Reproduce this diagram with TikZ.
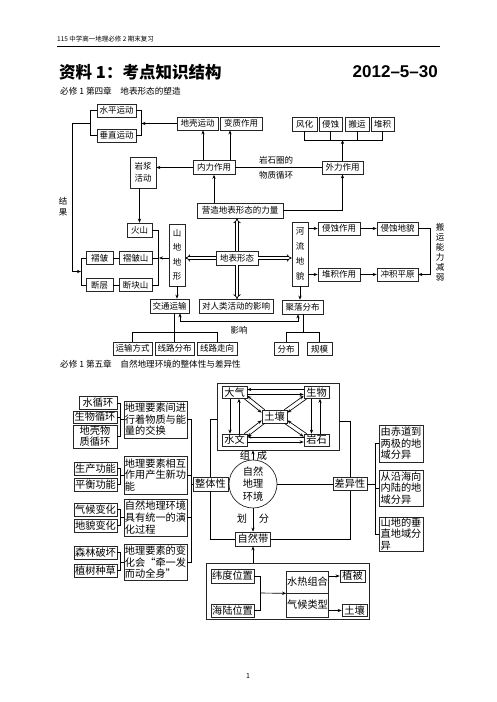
\documentclass[tikz,border=0pt]{standalone}
\usepackage{fontspec}
\setmainfont{Noto Sans CJK SC}
\newfontfamily\lsans{Liberation Sans}
\usetikzlibrary{arrows.meta}
\newcommand\fsA{\fontsize{8.5}{10}\selectfont}
\newcommand\fsB{\fontsize{10.2}{11.6}\selectfont}
\begin{document}
\begin{tikzpicture}[x=1pt,y=-1pt,
  bx/.style={draw=black!85, line width=0.7pt, inner sep=0pt, font=\fsA, align=center},
  bxB/.style={bx, font=\fsB},
  bxM/.style={bx, font=\fsB, align=left},
  ln/.style={line width=0.65pt},
  arr/.style={line width=0.65pt, -{Stealth[length=4pt,width=3.2pt]}},
  darr/.style={line width=0.65pt, {Stealth[length=4pt,width=3.2pt]}-{Stealth[length=4pt,width=3.2pt]}},
  dbl/.style={draw=black, double=white, double distance=1.7pt, line width=0.75pt, -{Implies}},
  txt/.style={inner sep=0pt, font=\fsA, align=center}]
\useasboundingbox (0,0) rectangle (496,702);
\fill[white] (0,0) rectangle (496,702);
% header
\node[anchor=west, inner sep=0, font=\fontsize{6.5}{7}\selectfont] (hdr) at (57,39) {115 中学高一地理必修 2 期末复习};
\draw[line width=1pt] (57,46.5) -- (440,46.5);
\node[anchor=west, inner sep=0, font=\fontsize{16.5}{18}\selectfont\bfseries] (ttl) at (59,72) {资料 1：考点知识结构};
\node[anchor=east, inner sep=0, font=\lsans\bfseries\fontsize{17}{18}\selectfont] (date) at (438,72) {2012–5–30};
\node[anchor=west, inner sep=0, font=\fontsize{8.6}{9}\selectfont] (sub1) at (60,91) {必修 1 第四章　地表形态的塑造};

% ===== section 1 =====
\node[bx, minimum width=39, minimum height=13] (sp) at (116.5,110.5) {水平运动};
\node[bx, minimum width=39, minimum height=13] (cz) at (116.5,135.5) {垂直运动};
\node[bx, minimum width=41, minimum height=13] (dq) at (197.5,123.5) {地壳运动};
\node[bx, minimum width=42, minimum height=13] (bz) at (241,123.5) {变质作用};
\node[bx, minimum width=42, minimum height=14] (nl) at (214,167.5) {内力作用};
\node[bx, minimum width=26, minimum height=31, font=\fontsize{8.5}{12}\selectfont] (yj) at (143,172.5) {岩浆\\活动};
\node[txt] (ys1) at (276,160) {岩石圈的};
\node[txt] (ys2) at (276,175.5) {物质循环};
\node[bx, minimum width=41, minimum height=13] (wl) at (342.5,167.5) {外力作用};
\node[bx, minimum width=25, minimum height=14] (fh) at (304.5,124) {风化};
\node[bx, minimum width=23, minimum height=14] (qs) at (330.5,124) {侵蚀};
\node[bx, minimum width=24, minimum height=14] (by) at (357,124) {搬运};
\node[bx, minimum width=23, minimum height=14] (dj) at (382.5,124) {堆积};
\node[bx, minimum width=86, minimum height=15] (yz) at (240,210.5) {营造地表形态的力量};
\node[txt, font=\fontsize{8.5}{10.5}\selectfont] (jg) at (63,207) {结\\果};
\node[bx, minimum width=25, minimum height=14] (hs) at (139.5,230) {火山};
\node[bx, minimum width=33, minimum height=13] (zzs) at (135.5,258) {褶皱山};
\node[bx, minimum width=33, minimum height=13] (dks) at (135.5,285) {断块山};
\node[bx, minimum width=27, minimum height=13] (zz) at (99.5,258) {褶皱};
\node[bx, minimum width=27, minimum height=13] (dc) at (99.5,285) {断层};
\node[bx, minimum width=16, minimum height=62, font=\fontsize{8.5}{14.5}\selectfont] (sd) at (177,255) {山\\地\\地\\形};
\node[bx, minimum width=42, minimum height=14] (dbxt) at (237,258) {地表形态};
\node[bx, minimum width=16, minimum height=64, font=\fontsize{8.5}{15}\selectfont] (hl) at (300,254) {河\\流\\地\\貌};
\node[bx, minimum width=42, minimum height=13] (qszy) at (339,228.5) {侵蚀作用};
\node[bx, minimum width=41, minimum height=13] (qsdm) at (397.5,228.5) {侵蚀地貌};
\node[bx, minimum width=42, minimum height=13] (djzy) at (339,274.5) {堆积作用};
\node[bx, minimum width=41, minimum height=13] (cjpy) at (397.5,274.5) {冲积平原};
\node[txt, font=\fontsize{8.5}{10}\selectfont] (byn) at (440,252) {搬\\运\\能\\力\\减\\弱};
\node[bx, minimum width=39, minimum height=14] (jtys) at (169.5,306) {交通运输};
\node[bx, minimum width=74, minimum height=14] (rl) at (236,306.5) {对人类活动的影响};
\node[bx, minimum width=41, minimum height=14] (jlfb) at (302.5,307) {聚落分布};
\node[txt] (yxt) at (239,330) {影响};
\node[bx, minimum width=39, minimum height=13] (ysfs) at (132.5,348.5) {运输方式};
\node[bx, minimum width=39, minimum height=13] (xlfb) at (174.5,348.5) {线路分布};
\node[bx, minimum width=40, minimum height=13] (xlzx) at (217,348.5) {线路走向};
\node[bx, minimum width=24, minimum height=13] (fb) at (286,349) {分布};
\node[bx, minimum width=25, minimum height=13] (gm) at (319.5,349) {规模};

% coordinates
\coordinate (b1l) at (90,123.5);
\coordinate (b1r) at (141.5,123.5);
\coordinate (b2l) at (81,271.5);
\coordinate (b3) at (342.5,140);
\coordinate (b4) at (158,258);
\coordinate (yx1) at (180,321);
\coordinate (yx2) at (298,321);
\coordinate (b5) at (174.5,332);
\coordinate (b6) at (303,332);

% connectors section 1
\draw[ln] (sp.west) -- (sp.west -| b1l) |- (cz.west);
\draw[ln] (sp.east) -- (sp.east -| b1r) |- (cz.east);
\draw[arr] (dq.west) -- (b1r);
\draw[arr] (b1l) -- (72,123.5) -- (72,271.5) -- (b2l);
\draw[arr] ([xshift=-11pt]nl.north) -- ([xshift=-11pt]nl.north |- dq.south);
\draw[arr] ([xshift=16pt]nl.north) -- ([xshift=16pt]nl.north |- bz.south);
\draw[arr] (nl.west) -- (nl.west -| yj.east);
\draw[arr] (yj.south -| hs) -- (hs.north);
\draw[ln] (nl.east) -- (wl.west);
\draw[ln] (fh.south) -- (fh.south |- b3) -- (dj.south |- b3) -- (dj.south);
\draw[ln] (qs.south) -- (qs.south |- b3);
\draw[ln] (by.south) -- (by.south |- b3);
\draw[arr] (wl.north) -- (b3);
\draw[arr] (yz.north -| nl) -- (nl.south);
\draw[arr] (yz.east) -| (wl.south);
\draw[dbl] (dbxt.west) -- (dbxt.west -| sd.east);
\draw[dbl] (dbxt.east) -- (dbxt.east -| hl.west);
\draw[dbl] (dbxt.north) -- (dbxt.north |- yz.south);
\draw[dbl] (dbxt.south) -- (dbxt.south |- rl.north);
\draw[ln] (hs.east) -- (hs.east -| b4) |- (dks.east);
\draw[ln] (zzs.east) -- (b4);
\draw[arr] (sd.west |- b4) -- ([xshift=1pt]b4);
\draw[ln] (zz.east) -- (zzs.west);
\draw[ln] (dc.east) -- (dks.west);
\draw[ln] (zz.west) -- (zz.west -| b2l) |- (dc.west);
\draw[arr] (sd.south) -- (sd.south |- jtys.north);
\draw[darr] (jtys.south -| yx1) -- (yx1) -- (yx2) -- (jlfb.south -| yx2);
\draw[ln] (jtys.south -| b5) -- (b5);
\draw[ln] (ysfs.north) -- (ysfs.north |- b5) -- (xlzx.north |- b5) -- (xlzx.north);
\draw[ln] (xlfb.north) -- (b5);
\draw[arr] (hl.east |- qszy) -- (qszy.west);
\draw[arr] (hl.east |- djzy) -- (djzy.west);
\draw[arr] (qszy.east) -- (qsdm.west);
\draw[arr] (djzy.east) -- (cjpy.west);
\draw[arr] (qsdm.east) -- ++(12,0) |- (cjpy.east);
\draw[arr] (hl.south) -- (hl.south |- jlfb.north);
\draw[ln] (jlfb.south -| b6) -- (b6);
\draw[ln] (fb.north) -- (fb.north |- b6) -- (gm.north |- b6) -- (gm.north);

% ===== section 2 =====
\node[anchor=west, inner sep=0, font=\fontsize{8.6}{9}\selectfont] (sub2) at (60,364) {必修 1 第五章　自然地理环境的整体性与差异性};

\node[bxB, minimum width=38, minimum height=13] (sxh) at (98,403) {水循环};
\node[bxB, minimum width=44, minimum height=12] (swxh) at (95,417) {生物循环};
\node[bxB, minimum width=44, minimum height=23, font=\fontsize{10.2}{11}\selectfont] (dqwz) at (95,436.5) {地壳物\\质循环};
\node[bxM, minimum width=63, minimum height=37] (bA) at (155.5,419.5) {地理要素间进\\行着物质与能\\量的交换};
\node[bxB, minimum width=43, minimum height=13] (scgn) at (95.5,468.5) {生产功能};
\node[bxB, minimum width=43, minimum height=13] (phgn) at (95.5,484.5) {平衡功能};
\node[bxM, minimum width=63, minimum height=38] (bB) at (155.5,475) {地理要素相互\\作用产生新功\\能};
\node[bxB, minimum width=43, minimum height=13] (qhbh) at (95.5,509.5) {气候变化};
\node[bxB, minimum width=43, minimum height=13] (dmbh) at (95.5,525.5) {地貌变化};
\node[bxM, minimum width=63, minimum height=37] (bC) at (155.5,517.5) {自然地理环境\\具有统一的演\\化过程};
\node[bxB, minimum width=43, minimum height=13] (slph) at (95.5,552.5) {森林破坏};
\node[bxB, minimum width=43, minimum height=13] (zszc) at (95.5,570.5) {植树种草};
\node[bxM, minimum width=63, minimum height=36] (bD) at (155.5,562.5) {地理要素的变\\化会“牵一发\\而动全身”};
\node[bxB, minimum width=35, minimum height=14] (ztx) at (210.5,484) {整体性};
\node[bxB, minimum width=34, minimum height=13] (cyx) at (350,484) {差异性};
\node[draw=black!85, line width=0.7pt, circle, minimum size=48, inner sep=0, font=\fontsize{10.2}{12.8}\selectfont, align=center] (hj) at (253,484) {自然\\地理\\环境};
\node[draw=black!85, line width=0.7pt, minimum width=122, minimum height=67, inner sep=0] (kuang) at (278,416.5) {};
\node[bxB, minimum width=25, minimum height=12] (dqi) at (234.5,392.5) {大气};
\node[bxB, minimum width=25, minimum height=12] (sw) at (316.5,392.5) {生物};
\node[bxB, minimum width=25, minimum height=13] (tr) at (274.5,416.5) {土壤};
\node[bxB, minimum width=25, minimum height=12] (swen) at (234.5,440) {水文};
\node[bxB, minimum width=25, minimum height=12] (ys) at (316.5,440) {岩石};
\node[txt, font=\fsB] (zu) at (245,456) {组};
\node[txt, font=\fsB] (cheng) at (262,456) {成};
\node[txt, font=\fsB] (hua) at (242,519) {划};
\node[txt, font=\fsB] (fen) at (264,519) {分};
\node[bxB, minimum width=35, minimum height=14] (zrd) at (253,539) {自然带};
\node[bxM, minimum width=44, minimum height=37] (r1) at (401,443.5) {由赤道到\\两极的地\\域分异};
\node[bxM, minimum width=44, minimum height=36] (r2) at (401,488) {从沿海向\\内陆的地\\域分异};
\node[bxM, minimum width=44, minimum height=34] (r3) at (401,534) {山地的垂\\直地域分\\异};
\node[draw=black!85, line width=0.7pt, minimum width=163, minimum height=56, inner sep=0] (kuang2) at (287.5,591) {};
\node[bxB, minimum width=43, minimum height=14] (wdwz) at (232.5,576) {纬度位置};
\node[bxB, minimum width=43, minimum height=13] (hlwz) at (232.5,610.5) {海陆位置};
\node[bxB, minimum width=42, minimum height=22] (srzh) at (307.5,582) {水热组合};
\node[bxB, minimum width=42, minimum height=24] (qhlx) at (307.5,605) {气候类型};
\node[bxB, minimum width=25, minimum height=12] (zb) at (352.5,576) {植被};
\node[bxB, minimum width=25, minimum height=12] (tr2) at (354.5,610.5) {土壤};
\node[inner sep=0, font=\fontsize{7}{8}\selectfont] (pg) at (248,676) {1};

\coordinate (xb1) at (120.5,420);
\coordinate (xb2) at (191,484);
\coordinate (xb3) at (375,484);
\coordinate (xb4) at (260,593);

% connectors section 2
\draw[ln] (sxh.east) -- (sxh.east -| xb1) |- (dqwz.east);
\draw[ln] (swxh.east) -- (swxh.east -| xb1);
\draw[ln] (xb1 |- bA.west) -- (bA.west);
\draw[ln] (scgn.east) -- (scgn.east -| xb1) |- (phgn.east);
\draw[ln] (xb1 |- bB.west) -- (bB.west);
\draw[ln] (qhbh.east) -- (qhbh.east -| xb1) |- (dmbh.east);
\draw[ln] (xb1 |- bC.west) -- (bC.west);
\draw[ln] (slph.east) -- (slph.east -| xb1) |- (zszc.east);
\draw[ln] (xb1 |- bD.west) -- (bD.west);
\draw[ln] (bA.east) -- (bA.east -| xb2) |- (bD.east);
\draw[ln] (bB.east) -- (bB.east -| xb2);
\draw[ln] (bC.east) -- (bC.east -| xb2);
\draw[ln] (xb2) -- (ztx.west);
\draw[ln] (ztx.east) -- (hj.west);
\draw[ln] (hj.east) -- (cyx.west);
\draw[arr] (hj.north) -- (hj.north |- kuang.south);
\draw[arr] (hj.south) -- (zrd.north);
\draw[ln] ([yshift=-3pt]kuang.west) -| (ztx.north);
\draw[ln] (ztx.south) |- (zrd.west);
\draw[ln] ([yshift=-5pt]kuang.east) -| (cyx.north);
\draw[ln] (cyx.south) |- (zrd.east);
\draw[ln] (cyx.east) -- (xb3);
\draw[ln] (r1.west) -- (r1.west -| xb3) |- (r3.west);
\draw[ln] (r2.west) -- (r2.west -| xb3);
% inside element box
\draw[arr] ([yshift=3pt]sw.west) -- ([yshift=3pt]dqi.east);
\draw[arr] ([yshift=-2pt]dqi.east) -- ([yshift=-2pt]sw.west);
\draw[arr] ([yshift=3pt]ys.west) -- ([yshift=3pt]swen.east);
\draw[arr] ([yshift=-2pt]swen.east) -- ([yshift=-2pt]ys.west);
\draw[arr] ([xshift=-4.5pt]dqi.south) -- ([xshift=-4.5pt]swen.north);
\draw[arr] ([xshift=4.5pt]swen.north) -- ([xshift=4.5pt]dqi.south);
\draw[arr] ([xshift=-5pt]sw.south) -- ([xshift=-5pt]ys.north);
\draw[arr] ([xshift=3.5pt]ys.north) -- ([xshift=3.5pt]sw.south);
\draw[arr] ([shift={(-3,0)}]dqi.south east) -- ([shift={(0,3)}]tr.north west);
\draw[arr] ([shift={(3,0)}]tr.north west) -- ([shift={(0,-3)}]dqi.south east);
\draw[arr] ([shift={(3,0)}]sw.south west) -- ([shift={(0,3)}]tr.north east);
\draw[arr] ([shift={(-3,0)}]tr.north east) -- ([shift={(0,-3)}]sw.south west);
\draw[arr] ([shift={(-3,0)}]swen.north east) -- ([shift={(0,-3)}]tr.south west);
\draw[arr] ([shift={(3,0)}]tr.south west) -- ([shift={(0,3)}]swen.north east);
\draw[arr] ([shift={(3,0)}]ys.north west) -- ([shift={(0,-3)}]tr.south east);
\draw[arr] ([shift={(-3,0)}]tr.south east) -- ([shift={(0,3)}]ys.north west);
% bottom box
\draw[arr] (kuang2.north -| zrd) -- (zrd.south);
\draw[ln] (wdwz.east) -- (wdwz.east -| xb4) |- (hlwz.east);
\draw[arr] (xb4) -- (srzh.south west);
\draw[arr] (srzh.east |- zb) -- (zb.west);
\draw[arr] (qhlx.east |- tr2) -- (tr2.west);
\end{tikzpicture}
\end{document}
